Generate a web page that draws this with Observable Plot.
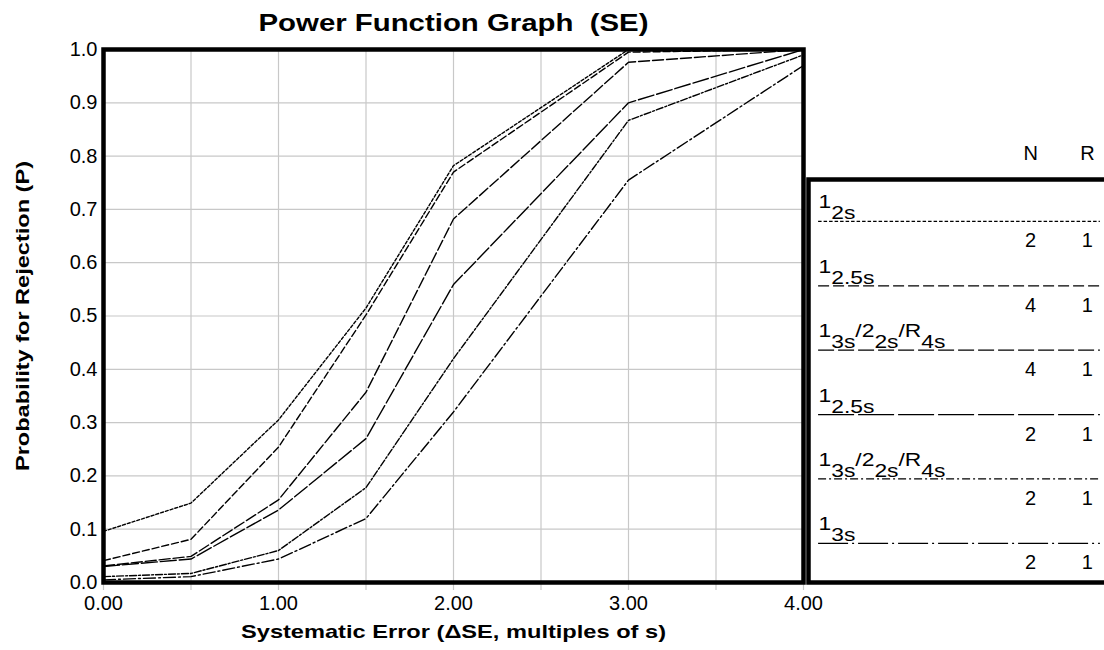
<!DOCTYPE html>
<html><head><meta charset="utf-8">
<script src="https://cdn.jsdelivr.net/npm/d3@7"></script>
<script src="https://cdn.jsdelivr.net/npm/@observablehq/plot@0.6"></script>
<style>
html,body{margin:0;padding:0;background:#fff;overflow:hidden;}
#wrap{position:relative;width:1104px;height:650px;overflow:hidden;background:#fff;}
#wrap svg{position:absolute;overflow:visible;}
</style></head><body><div id="wrap"></div>
<script>
// ---- data ----
const shifts = [0, 0.5, 1, 1.5, 2, 3, 4];              // systematic error (multiples of s)
const p_12s_N2      = [0.096, 0.149, 0.305, 0.515, 0.782, 1.000, 1.000];
const p_125s_N4     = [0.041, 0.081, 0.254, 0.502, 0.770, 0.995, 1.000];
const p_multi_N4    = [0.031, 0.049, 0.155, 0.357, 0.682, 0.976, 1.000];
const p_125s_N2     = [0.030, 0.044, 0.136, 0.270, 0.559, 0.900, 1.000];
const p_multi_N2    = [0.011, 0.017, 0.060, 0.178, 0.420, 0.867, 0.990];
const p_13s_N2      = [0.005, 0.011, 0.044, 0.120, 0.320, 0.755, 0.970];
const ruleLabels = ["1_{2s}", "1_{2.5s}", "1_{3s}/2_{2s}/R_{4s}", "1_{2.5s}", "1_{3s}/2_{2s}/R_{4s}", "1_{3s}"];
const nValues = [2, 4, 4, 2, 2, 2];
const rValues = [1, 1, 1, 1, 1, 1];
const xTicks = [0, 1, 2, 3, 4];
const xGridTicks = [0, 0.5, 1, 1.5, 2, 2.5, 3, 3.5, 4];
const yTicks = [0, 0.1, 0.2, 0.3, 0.4, 0.5, 0.6, 0.7, 0.8, 0.9, 1.0];
const titleText = "Power Function Graph  (SE)";
const xLabel = "Systematic Error (\u0394SE, multiples of s)";
const yLabel = "Probability for Rejection (P)";
const headers = ["N", "R"];

// ---- styles ----
const seriesValues = [p_12s_N2, p_125s_N4, p_multi_N4, p_125s_N2, p_multi_N2, p_13s_N2];
const chartDashes = ["3,2", "7,3", "11,3", "16,3", "7,2,2,2", "12,3,2,3"];
const legendDashes = ["3.5,2", "11,4", "16,4", "36,4", "8,3,2,3", "30,4,2,4"];
const font = "'Liberation Sans', Arial, Helvetica, sans-serif";

const rows = seriesValues.flatMap((vals, i) => shifts.map((x, j) => ({series: i, x, p: vals[j]})));

const main = Plot.plot({
  width: 1104, height: 650,
  marginLeft: 103, marginRight: 301, marginTop: 49, marginBottom: 68,
  x: {domain: [0, 4]},
  y: {domain: [0, 1]},
  style: {fontFamily: font, fontSize: "20px", color: "black", background: "transparent", overflow: "visible"},
  marks: [
    Plot.gridX(xGridTicks, {stroke: "#c8c8c8", strokeOpacity: 1, strokeWidth: 1.2}),
    Plot.gridY(yTicks, {stroke: "#c8c8c8", strokeOpacity: 1, strokeWidth: 1.2}),
    Plot.axisX(xGridTicks, {tickSize: 8, text: null, stroke: "#c8c8c8", strokeOpacity: 1, strokeWidth: 1.2, label: null}),
    Plot.axisX(xTicks, {tickSize: 0, tickPadding: 13, tickFormat: d3.format(".2f"), label: null, fill: "black", fontSize: 20}),
    Plot.axisY(yTicks, {tickSize: 0, tickPadding: 6, tickFormat: d3.format(".1f"), label: null, fill: "black", fontSize: 20}),
    ...seriesValues.map((_, i) => Plot.line(rows.filter(d => d.series === i), {
      x: "x", y: "p", stroke: "black", strokeWidth: 1.4, strokeDasharray: chartDashes[i]
    })),
    Plot.frame({stroke: "black", strokeWidth: 4.5}),
    Plot.text([titleText], {text: d => d, frameAnchor: "top", lineAnchor: "middle", dy: -26, fontWeight: "bold", fontSize: 23, fill: "black"}),
    Plot.text([yLabel], {text: d => d, frameAnchor: "left", textAnchor: "middle", rotate: -90, dx: -81, fontWeight: "bold", fontSize: 19, fill: "black"}),
    Plot.text([xLabel], {text: d => d, frameAnchor: "bottom", lineAnchor: "bottom", dy: 55, fontWeight: "bold", fontSize: 19, fill: "black"})
  ]
});

// ---- legend ----
const legendRows = ruleLabels.map((label, i) => ({row: i, label, n: nValues[i], r: rValues[i]}));
const colLabel = 0.039, colRuleEnd = 0.948, colN = 0.723, colR = 0.906;
const legend = Plot.plot({
  width: 310, height: 470, margin: 0,
  x: {domain: [0, 1], axis: null},
  y: {domain: [-1.21, 6.09], reverse: true, axis: null},
  style: {fontFamily: font, color: "black", background: "transparent", overflow: "visible"},
  marks: [
    Plot.frame({stroke: "black", strokeWidth: 4.5, insetTop: 49, insetBottom: 18, insetLeft: 2, insetRight: -10}),
    Plot.text(headers, {text: d => d, x: d => d === "N" ? colN : colR, y: -1, dy: 16, lineAnchor: "bottom", fontSize: 20, fill: "black"}),
    Plot.text(legendRows, {text: "label", x: colLabel, y: "row", lineAnchor: "bottom", textAnchor: "start", fontSize: 19, fill: "black"}),
    ...legendRows.map((d, i) => Plot.ruleY([d], {y: "row", x1: colLabel, x2: colRuleEnd, dy: 13, stroke: "black", strokeWidth: 1.3, strokeDasharray: legendDashes[i]})),
    Plot.text(legendRows, {text: "n", x: colN, y: "row", dy: 39, lineAnchor: "bottom", fontSize: 20, fill: "black"}),
    Plot.text(legendRows, {text: "r", x: colR, y: "row", dy: 39, lineAnchor: "bottom", fontSize: 20, fill: "black"})
  ]
});

// sub/superscript formatting for rule labels
d3.select(legend).selectAll("text").each(function () {
  const t = this.textContent;
  if (!t.includes("_{")) return;
  const el = d3.select(this);
  el.text(null);
  el.attr("class", "rulelabel");
  const parts = t.split(/(_\{[^}]*\})/).filter(s => s);
  let low = false;
  for (const p of parts) {
    const isSub = p.startsWith("_{");
    const ts = el.append("tspan").text(isSub ? p.slice(2, -1) : p);
    if (isSub && !low) { ts.attr("dy", 11); low = true; }
    else if (!isSub && low) { ts.attr("dy", -11); low = false; }
  }
});

const wrap = document.getElementById("wrap");
main.style.left = "0px"; main.style.top = "0px";
legend.style.left = "806px"; legend.style.top = "130px";
wrap.appendChild(main);
wrap.appendChild(legend);

// the reference renders its labels with wider letterforms: widen them to its measured lengths
const widen = {[titleText]: 390, [xLabel]: 425, [yLabel]: 310};
d3.select(main).selectAll("text").each(function () {
  const w = widen[this.textContent];
  if (w) { this.setAttribute("textLength", w); this.setAttribute("lengthAdjust", "spacingAndGlyphs"); }
});
d3.select(legend).selectAll("text.rulelabel").each(function () {
  const L = this.getComputedTextLength();
  this.setAttribute("textLength", L * 1.2); this.setAttribute("lengthAdjust", "spacingAndGlyphs");
});
</script></body></html>
